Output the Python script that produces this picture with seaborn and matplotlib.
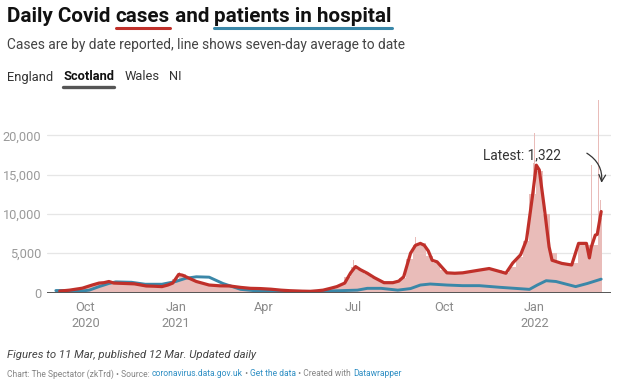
import matplotlib
matplotlib.use("Agg")
import matplotlib.pyplot as plt
import matplotlib.dates as mdates
import numpy as np
import pandas as pd
import seaborn as sns

# ---------------- data ----------------
avg_dates = ["2020-09-05", "2020-09-15", "2020-09-28", "2020-10-08", "2020-10-15", "2020-10-20",
             "2020-10-25", "2020-10-30", "2020-11-10", "2020-11-20", "2020-12-02", "2020-12-10",
             "2020-12-18", "2020-12-24", "2020-12-29", "2021-01-04", "2021-01-08", "2021-01-14",
             "2021-01-22", "2021-02-04", "2021-02-15", "2021-02-25", "2021-03-08", "2021-03-18",
             "2021-03-28", "2021-04-08", "2021-04-18", "2021-04-27", "2021-05-10", "2021-05-18",
             "2021-05-25", "2021-05-31", "2021-06-08", "2021-06-14", "2021-06-22", "2021-06-28",
             "2021-07-03", "2021-07-08", "2021-07-15", "2021-07-22", "2021-08-01", "2021-08-10",
             "2021-08-16", "2021-08-21", "2021-08-28", "2021-09-02", "2021-09-07", "2021-09-11",
             "2021-09-15", "2021-09-19", "2021-09-24", "2021-10-04", "2021-10-12", "2021-10-20",
             "2021-11-06", "2021-11-16", "2021-11-26", "2021-12-03", "2021-12-10", "2021-12-18",
             "2021-12-24", "2021-12-30", "2022-01-03", "2022-01-06", "2022-01-11", "2022-01-16",
             "2022-01-19", "2022-01-29", "2022-02-08", "2022-02-15", "2022-02-23", "2022-02-26",
             "2022-02-28", "2022-03-04", "2022-03-06", "2022-03-10"]
avg_cases = [180, 300, 550, 950, 1200, 1250,
             1400, 1200, 1150, 1100, 830, 800,
             750, 950, 1200, 2300, 2200, 1850,
             1400, 950, 850, 830, 650, 530,
             500, 420, 300, 230, 170, 150,
             220, 300, 550, 750, 1200, 2500,
             3300, 2900, 2450, 1900, 1250, 1250,
             1450, 2000, 5000, 6000, 6250, 6000,
             5300, 4100, 3900, 2500, 2450, 2500,
             2850, 3050, 2700, 2450, 3750, 4800,
             6700, 12200, 16200, 15600, 10900, 5800,
             4100, 3700, 3500, 6250, 6250, 4400,
             5800, 7300, 7400, 10300]

hosp_dates = ["2020-09-01", "2020-09-10", "2020-09-15", "2020-09-25", "2020-10-05", "2020-10-15",
              "2020-10-25", "2020-11-01", "2020-11-17", "2020-12-01", "2020-12-18", "2021-01-01",
              "2021-01-11", "2021-01-22", "2021-02-04", "2021-02-18", "2021-03-08", "2021-03-25",
              "2021-04-15", "2021-05-15", "2021-06-08", "2021-07-05", "2021-07-15", "2021-07-29",
              "2021-08-15", "2021-08-28", "2021-09-07", "2021-09-17", "2021-10-04", "2021-10-20",
              "2021-11-06", "2021-11-27", "2021-12-27", "2022-01-04", "2022-01-13", "2022-01-23",
              "2022-02-12", "2022-02-24", "2022-03-10"]
hosp_patients = [250, 250, 80, 150, 300, 750,
                 1150, 1350, 1300, 1050, 1050, 1400,
                 1800, 2000, 1950, 1150, 400, 200,
                 150, 100, 200, 300, 530, 530,
                 300, 500, 950, 1080, 950, 870,
                 870, 660, 400, 950, 1500, 1400,
                 750, 1150, 1700]

week_starts = list(pd.date_range("2020-08-31", "2022-03-07", freq="7D"))
weekly_cases = [150, 200, 350, 450, 700, 1000, 1250, 1350, 1300, 1200, 1150, 1150, 1050,
                850, 800, 750, 900, 1700, 2300, 1900, 1500, 1200, 950, 850, 850, 800,
                650, 550, 520, 500, 420, 350, 300, 250, 220, 180, 160, 200, 280,
                450, 700, 1000, 2000, 3200, 2900, 2400, 1900, 1400, 1250, 1300, 1900,
                4200, 6000, 6300, 4600, 3800, 2800, 2500, 2450, 2500, 2650, 2800, 2900,
                3000, 2800, 2500, 3300, 4500, 6500, 12500, 15500, 10000, 5000, 3800, 3600,
                3800, 6200, 6000, 6000, 9500]
data_end = "2022-03-11"

spike_dates = ["2021-01-05", "2021-07-01", "2021-09-02", "2021-12-31",
               "2022-01-01", "2022-02-28", "2022-03-07", "2022-03-09"]
spike_cases = [2600, 4100, 7100, 16500, 20300, 16200, 24500, 11800]

y_ticks = [0, 5000, 10000, 15000, 20000]
x_ticks = ["2020-10-01", "2021-01-01", "2021-04-01", "2021-07-01", "2021-10-01", "2022-01-01"]
x_tick_labels = ["Oct\n2020", "Jan\n2021", "Apr", "Jul", "Oct", "Jan\n2022"]

# ---------------- style ----------------
sns.set_theme(style="white")
plt.rcParams["font.family"] = ["Roboto", "DejaVu Sans"]

RED = "#c0302a"
BLUE = "#3a87a8"
PINK = "#e9bcb9"

fig = plt.figure(figsize=(6.2, 3.87), dpi=100)
ax = fig.add_axes([47 / 620, 1 - 292.5 / 387, (611 - 47) / 620, (292.5 - 96) / 387])

# bars: weekly blocks (last one ends at the final data day) + notable daily spikes
starts = pd.to_datetime(week_starts)
ends = list(starts[1:]) + [pd.Timestamp(data_end)]
widths = [(e - s).days for s, e in zip(starts, ends)]
ax.bar(starts, weekly_cases, width=widths, align="edge", color=PINK, linewidth=0, zorder=1)
ax.bar(pd.to_datetime(spike_dates), spike_cases, width=1.0, color=PINK, linewidth=0, zorder=1)

df_avg = pd.DataFrame({"date": pd.to_datetime(avg_dates), "value": avg_cases})
df_hosp = pd.DataFrame({"date": pd.to_datetime(hosp_dates), "value": hosp_patients})
sns.lineplot(data=df_hosp, x="date", y="value", ax=ax, color=BLUE, linewidth=2.1, zorder=3)
sns.lineplot(data=df_avg, x="date", y="value", ax=ax, color=RED, linewidth=2.3, zorder=4)

ax.set_xlim(pd.Timestamp("2020-08-23"), pd.Timestamp("2022-03-20"))
ax.set_ylim(0, 25000)
ax.set_xlabel("")
ax.set_ylabel("")
for s in ax.spines.values():
    s.set_visible(False)
ax.set_yticks(y_ticks)
ax.set_yticklabels([f"{v:,}" for v in y_ticks], color="#9a9a9a", fontsize=9.2)
ax.tick_params(axis="y", length=0, pad=4)
for v in y_ticks[1:]:
    ax.axhline(v, color="#e6e6e6", linewidth=0.9, zorder=0)
ax.axhline(0, color="#555555", linewidth=1.4, zorder=5)
ax.set_xticks(pd.to_datetime(x_ticks))
ax.set_xticklabels(x_tick_labels, color="#8a8a8a", fontsize=9.2, linespacing=1.35)
ax.tick_params(axis="x", length=0, pad=6)
ax.patch.set_alpha(0)

# annotation
ax.annotate("", xy=(pd.Timestamp("2022-03-10"), 13600), xytext=(pd.Timestamp("2022-02-21"), 17900),
            arrowprops=dict(arrowstyle="->", color="#333333", lw=0.9,
                            connectionstyle="arc3,rad=-0.35"), zorder=6)
ax.text(pd.Timestamp("2021-12-19"), 17450, "Latest: 1,322", ha="center", va="center",
        fontsize=9.8, color="#333333", zorder=6)

# ---------------- header / footer ----------------
fig.canvas.draw()
renderer = fig.canvas.get_renderer()


def seq_text(x_px, y_px, pieces, gap=0, **kw):
    """Draw text pieces one after another. pieces: list of (text, color, extra kw)."""
    x = x_px
    arts = []
    for txt, col, extra in pieces:
        k = dict(kw)
        k.update(extra)
        t = fig.text(x / 620, 1 - y_px / 387, txt, color=col, va="center", ha="left", **k)
        bb = t.get_window_extent(renderer)
        arts.append((t, bb))
        x = bb.x1 + gap
    return arts


title_kw = dict(fontsize=14.9, fontweight="bold")
arts = seq_text(7, 16, [("Daily Covid ", "#111111", {}), ("cases", "#111111", {}),
                        (" and ", "#111111", {}), ("patients in hospital", "#111111", {})], **title_kw)
for idx, col in [(1, RED), (3, BLUE)]:
    bb = arts[idx][1]
    fig.add_artist(plt.Line2D([bb.x0 / 620, bb.x1 / 620], [1 - 27.5 / 387] * 2, color=col, lw=2.2))

fig.text(7 / 620, 1 - 45 / 387, "Cases are by date reported, line shows seven-day average to date",
         fontsize=9.95, color="#444444", va="center")

tabs = seq_text(7, 77, [("England", "#333333", {}),
                        ("Scotland", "#111111", {"fontweight": "bold"}),
                        ("Wales", "#333333", {}), ("NI", "#333333", {})],
                gap=10, fontsize=9.3)
bb = tabs[1][1]
fig.add_artist(plt.Line2D([bb.x0 / 620, bb.x1 / 620], [1 - 86.5 / 387] * 2, color="#555555", lw=2.4))

fig.text(7 / 620, 1 - 354.5 / 387, "Figures to 11 Mar, published 12 Mar. Updated daily",
         fontsize=8.2, color="#444444", style="italic", va="center")

GRAY = "#858585"
LINK = "#2f8fc4"
seq_text(7, 374, [("Chart: The Spectator (zkTrd) • Source: ", GRAY, {}),
                  ("coronavirus.data.gov.uk", LINK, {}), (" • ", GRAY, {}),
                  ("Get the data", LINK, {}), (" • Created with ", GRAY, {}),
                  ("Datawrapper", LINK, {})], fontsize=6.15)

fig.savefig("out.png", dpi=100)
